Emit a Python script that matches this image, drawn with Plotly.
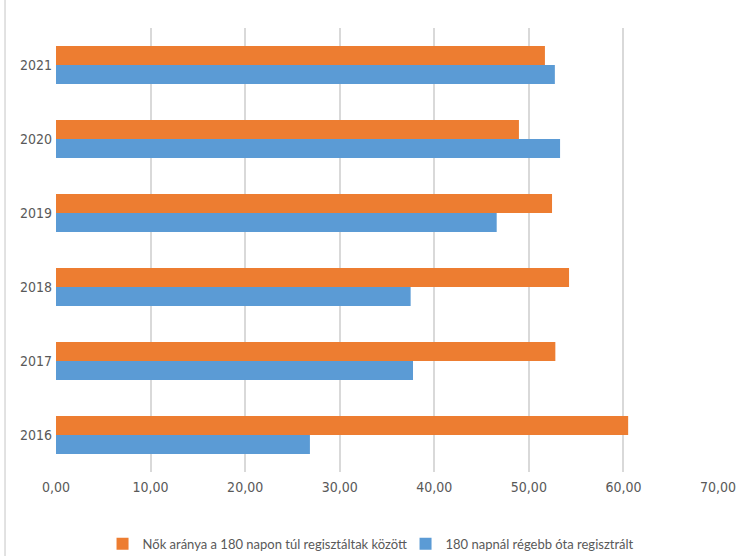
import plotly.graph_objects as go

years = ["2016", "2017", "2018", "2019", "2020", "2021"]
women_share = [60.5, 52.8, 54.25, 52.45, 48.95, 51.7]
long_registered = [26.85, 37.75, 37.5, 46.6, 53.3, 52.75]
x_ticks = [0, 10, 20, 30, 40, 50, 60, 70]

name_orange = "Nők aránya a 180 napon túl regisztáltak között"
name_blue = "180 napnál régebb óta regisztrált"

TICKFONT = "DejaVu Sans Condensed, Lato, sans-serif"
FONT = "Lato, sans-serif"

fig = go.Figure()
fig.add_trace(go.Bar(
    y=years, x=long_registered, orientation="h", name=name_blue,
    marker=dict(color="#5B9BD5", line=dict(width=0)), legendrank=2,
))
fig.add_trace(go.Bar(
    y=years, x=women_share, orientation="h", name=name_orange,
    marker=dict(color="#ED7D31", line=dict(width=0)), legendrank=1,
))

fig.update_layout(
    width=741, height=556,
    margin=dict(l=56, r=23, t=28, b=84, autoexpand=False),
    paper_bgcolor="white", plot_bgcolor="white",
    barmode="group", bargap=0.486, bargroupgap=0,
    separators=", ",
    showlegend=True,
    legend=dict(orientation="h", x=0.528, xanchor="center",
                yref="container", y=0.022, yanchor="middle",
                font=dict(family=FONT, size=13, color="#595959"),
                itemwidth=30, entrywidth=258, traceorder="normal"),
    xaxis=dict(range=[0, 70], tickvals=x_ticks, tickformat=".2f",
               showgrid=True, gridcolor="#d9d9d9", gridwidth=1.5,
               zeroline=False, showline=False, ticks="", automargin=False,
               ticklabelstandoff=5,
               tickfont=dict(family=TICKFONT, size=14, color="#595959")),
    yaxis=dict(type="category", categoryorder="array", categoryarray=years,
               showgrid=False, zeroline=False, showline=False, ticks="",
               automargin=False, ticklabelstandoff=3,
               tickfont=dict(family=TICKFONT, size=14, color="#595959")),
    shapes=[dict(type="line", xref="paper", yref="paper",
                 x0=-0.077, x1=-0.077, y0=-0.19, y1=1.07,
                 line=dict(color="#d9d9d9", width=1.5))],
)

fig.write_html("out.html", config={"displayModeBar": False},
               post_script="document.body.style.margin='0';")
